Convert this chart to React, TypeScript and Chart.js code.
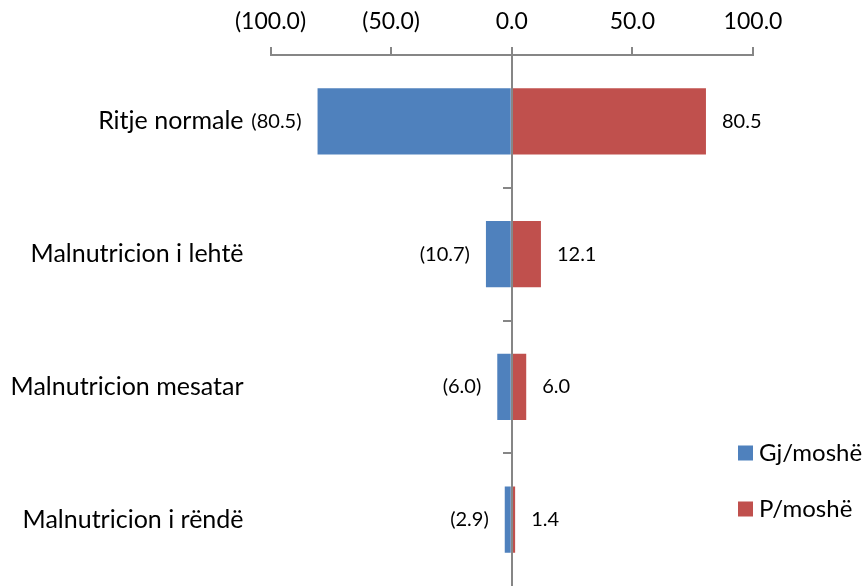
import { useEffect, useRef } from 'react';
import { Chart, registerables } from 'chart.js';

Chart.register(...registerables);

// Categories (top to bottom) and the two series, in percent
const categories = ['Ritje normale', 'Malnutricion i lehtë', 'Malnutricion mesatar', 'Malnutricion i rëndë'];
const seriesNames = ['Gj/moshë', 'P/moshë'];
const gjMoshe = [-80.5, -10.7, -6.0, -2.9];
const pMoshe = [80.5, 12.1, 6.0, 1.4];
const axisTicks = [-100, -50, 0, 50, 100];

const BLUE = '#4F81BD';
const RED = '#C0504D';
const AXIS = '#868686';
const FONT = 'Lato, "Open Sans", sans-serif';

// Negative numbers are written in accounting style: (80.5)
const fmt = (v: number) => (v < 0 ? `(${Math.abs(v).toFixed(1)})` : v.toFixed(1));

// Vertical zero line with small tick marks between categories
const zeroAxisPlugin = {
  id: 'zeroAxis',
  afterDatasetsDraw(chart: any) {
    const { ctx, chartArea, scales } = chart;
    const x0 = Math.round(scales.x.getPixelForValue(0));
    ctx.save();
    ctx.strokeStyle = AXIS;
    ctx.lineWidth = 2;
    ctx.beginPath();
    ctx.moveTo(x0, chartArea.top - 8);
    ctx.lineTo(x0, chartArea.bottom);
    for (let i = 1; i < categories.length; i++) {
      const y = Math.round((scales.y.getPixelForValue(i - 1) + scales.y.getPixelForValue(i)) / 2);
      ctx.moveTo(x0 - 9, y);
      ctx.lineTo(x0, y);
    }
    ctx.stroke();
    ctx.restore();
  },
};

// Value labels beside each bar end
const valueLabelPlugin = {
  id: 'valueLabels',
  afterDatasetsDraw(chart: any) {
    const { ctx } = chart;
    ctx.save();
    ctx.font = `20px ${FONT}`;
    ctx.fillStyle = '#000';
    ctx.textBaseline = 'middle';
    chart.data.datasets.forEach((ds: any, di: number) => {
      const meta = chart.getDatasetMeta(di);
      meta.data.forEach((el: any, i: number) => {
        const v = ds.data[i] as number;
        if (v < 0) {
          ctx.textAlign = 'right';
          ctx.fillText(fmt(v), el.x - 16, el.y);
        } else {
          ctx.textAlign = 'left';
          ctx.fillText(fmt(v), el.x + 16, el.y);
        }
      });
    });
    ctx.restore();
  },
};

// Legend in the lower right corner
const sideLegendPlugin = {
  id: 'sideLegend',
  afterDraw(chart: any) {
    const { ctx, chartArea } = chart;
    const left = chartArea.right - 15;
    const firstY = 453;
    const step = 56;
    ctx.save();
    ctx.font = `24px ${FONT}`;
    ctx.textBaseline = 'middle';
    ctx.textAlign = 'left';
    chart.data.datasets.forEach((ds: any, i: number) => {
      const cy = firstY + i * step;
      ctx.fillStyle = ds.backgroundColor;
      ctx.fillRect(left, cy - 7.5, 15, 15);
      ctx.fillStyle = '#000';
      ctx.fillText(ds.label, left + 21, cy);
    });
    ctx.restore();
  },
};

export default function App() {
  const canvasRef = useRef<HTMLCanvasElement | null>(null);

  useEffect(() => {
    if (!canvasRef.current) return;
    const chart = new Chart(canvasRef.current, {
      type: 'bar',
      data: {
        labels: categories,
        datasets: [
          { label: seriesNames[0], data: gjMoshe, backgroundColor: BLUE, borderWidth: 0 },
          { label: seriesNames[1], data: pMoshe, backgroundColor: RED, borderWidth: 0 },
        ],
      },
      options: {
        indexAxis: 'y',
        responsive: false,
        animation: false,
        devicePixelRatio: 1,
        layout: { padding: { top: 0, right: 114, bottom: 0, left: 0 } },
        datasets: { bar: { barPercentage: 0.5, categoryPercentage: 1 } },
        plugins: { legend: { display: false }, tooltip: { enabled: false } },
        scales: {
          x: {
            type: 'linear',
            position: 'top',
            min: -100,
            max: 100,
            stacked: true,
            afterBuildTicks: (s: any) => {
              s.ticks = axisTicks.map((v) => ({ value: v }));
            },
            afterFit: (s: any) => {
              s.height = 55;
            },
            ticks: {
              callback: (v: any) => fmt(Number(v)),
              font: { family: FONT, size: 23 },
              color: '#000',
              padding: 12,
              maxRotation: 0,
              autoSkip: false,
            },
            grid: { drawOnChartArea: false, drawTicks: true, tickLength: 8, color: AXIS, lineWidth: 2 },
            border: { display: true, color: AXIS, width: 2 },
          },
          y: {
            type: 'category',
            position: 'left',
            stacked: true,
            afterFit: (s: any) => {
              s.width = 270.5;
              s.paddingTop = 0;
              s.paddingBottom = 0;
            },
            ticks: { font: { family: FONT, size: 25 }, color: '#000', padding: 27 },
            grid: { display: false, drawTicks: false },
            border: { display: false },
          },
        },
      },
      plugins: [zeroAxisPlugin, valueLabelPlugin, sideLegendPlugin],
    });
    return () => chart.destroy();
  }, []);

  return (
    <div style={{ position: 'absolute', left: 0, top: 0, width: 867, height: 586, background: '#fff' }}>
      <canvas ref={canvasRef} width={867} height={586} style={{ display: 'block' }} />
    </div>
  );
}
